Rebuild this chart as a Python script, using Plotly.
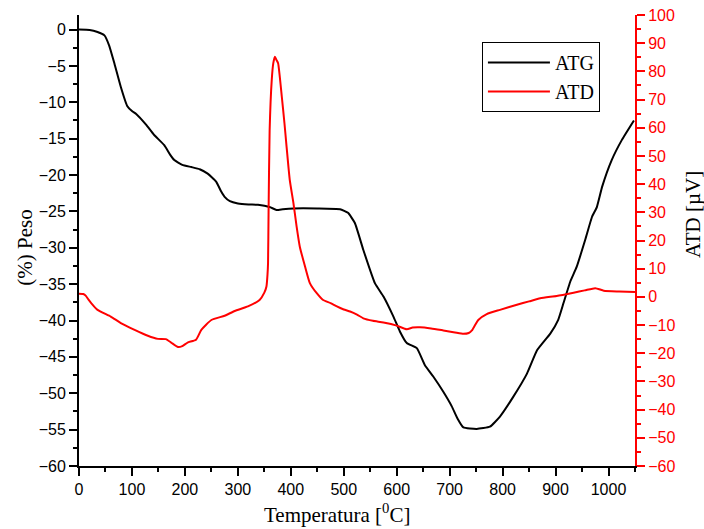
import plotly.graph_objects as go

# ATG (TGA) curve: temperature [°C] vs weight loss [%]
temp_atg = [0, 20, 35, 48, 57, 67, 79, 91, 100, 108, 127, 142, 161, 172, 180, 195, 212,
            228, 243, 259, 268, 275, 285, 300, 320, 338, 360, 373, 385, 405, 450, 493,
            508, 521, 537, 559, 575, 594, 606, 619, 638, 653, 669, 688, 704, 715, 726,
            751, 776, 795, 820, 846, 865, 890, 905, 915, 928, 940, 956, 969, 978, 988,
            1006, 1025, 1048]
peso_atg = [0, -0.05, -0.33, -0.8, -2.2, -4.7, -7.9, -10.5, -11.2, -11.6, -13.1, -14.5,
            -15.9, -17.2, -17.95, -18.6, -18.9, -19.2, -19.8, -20.9, -22.2, -23.0, -23.6,
            -23.9, -24.05, -24.1, -24.4, -24.8, -24.7, -24.6, -24.6, -24.7, -25.2, -26.6,
            -30.3, -34.9, -36.7, -39.5, -41.5, -43.1, -43.8, -46.1, -47.7, -49.8, -51.8,
            -53.5, -54.7, -54.9, -54.6, -53.2, -50.5, -47.3, -44.1, -41.8, -39.9, -37.6,
            -34.6, -32.6, -28.9, -25.7, -24.4, -21.6, -17.95, -15.2, -12.5]

# ATD (DTA) curve: temperature [°C] vs signal [µV]
temp_atd = [0, 8, 13, 18, 23, 35, 60, 79, 105, 130, 149, 164, 174, 187, 195, 205, 221,
            231, 250, 275, 294, 319, 341, 350, 354, 356, 357, 358, 360, 364, 367, 370,
            373, 376, 383, 388, 392, 398, 405, 411, 417, 427, 436, 449, 461, 475, 487,
            500, 512, 525, 537, 555, 575, 600, 619, 630, 644, 665, 688, 710, 726, 736,
            742, 748, 754, 770, 795, 827, 850, 871, 902, 934, 955, 975, 991, 1020, 1050]
uv_atd = [1.1, 1.0, 0.35, -1.0, -2.2, -4.6, -7.0, -9.3, -11.7, -13.8, -14.9, -15.0, -16.2,
          -17.8, -17.5, -16.2, -15.2, -11.7, -8.2, -6.7, -5.0, -3.4, -1.1, 1.5, 3.7, 8,
          12, 30, 59, 77, 83, 85.2, 84, 82.9, 71, 61.6, 53.3, 41.5, 33.2, 24.9, 17.8,
          10.7, 4.9, 1.3, -1.1, -2.2, -3.4, -4.5, -5.2, -6.3, -7.6, -8.5, -9.1, -10.2,
          -11.5, -10.9, -10.8, -11.2, -11.9, -12.6, -13.1, -12.8, -11.9, -10, -8.2,
          -6.1, -4.6, -2.8, -1.6, -0.5, 0.35, 1.5, 2.3, 3.1, 2.2, 1.9, 1.7]

x_range = [0, 1050]
y1_range = [-60, 2]
y2_range = [-60, 100]

tick_font = dict(family="Liberation Sans, Arial, sans-serif", size=16, color="black")
red_tick_font = dict(family="Liberation Sans, Arial, sans-serif", size=16, color="red")
serif = "Liberation Serif, Times New Roman, serif"

fig = go.Figure()
fig.add_trace(go.Scatter(x=temp_atg, y=peso_atg, name="ATG", mode="lines",
                         line=dict(color="black", width=2, shape="spline",
                                   smoothing=0.4)))
fig.add_trace(go.Scatter(x=temp_atd, y=uv_atd, name="ATD", mode="lines",
                         line=dict(color="red", width=2, shape="spline",
                                   smoothing=0.5), yaxis="y2"))

fig.update_layout(
    width=704, height=529,
    margin=dict(l=79, r=69, t=15, b=63, autoexpand=False),
    plot_bgcolor="white", paper_bgcolor="white",
    showlegend=True,
    xaxis=dict(range=x_range, tick0=0, dtick=100, ticks="outside", ticklen=8,
               tickwidth=1.5, tickcolor="black", showline=True, linecolor="black",
               linewidth=2, showgrid=False, zeroline=False, tickfont=tick_font,
               automargin=False,
               minor=dict(dtick=50, ticks="outside", ticklen=4, tickwidth=1.5,
                          tickcolor="black", showgrid=False)),
    xaxis2=dict(overlaying="x", side="top", range=x_range, tick0=0, dtick=100,
                ticks="inside", ticklen=8, tickwidth=1.5, tickcolor="red",
                showline=True, linecolor="red", linewidth=2, showgrid=False,
                zeroline=False, showticklabels=False, automargin=False,
                minor=dict(dtick=50, ticks="inside", ticklen=4, tickwidth=1.5,
                           tickcolor="red", showgrid=False)),
    yaxis=dict(range=y1_range, tick0=0, dtick=5, ticks="outside", ticklen=8,
               tickwidth=1.5, tickcolor="black", showline=True, linecolor="black",
               linewidth=2, showgrid=False, zeroline=False, tickfont=tick_font,
               automargin=False,
               minor=dict(dtick=2.5, ticks="outside", ticklen=4, tickwidth=1.5,
                          tickcolor="black", showgrid=False)),
    yaxis2=dict(overlaying="y", side="right", range=y2_range, tick0=0, dtick=10,
                ticks="outside", ticklen=8, tickwidth=1.5, tickcolor="red",
                showline=True, linecolor="red", linewidth=2, showgrid=False,
                zeroline=False, tickfont=red_tick_font, automargin=False,
                minor=dict(dtick=5, ticks="outside", ticklen=4, tickwidth=1.5,
                           tickcolor="red", showgrid=False)),
    legend=dict(x=0.7247, y=0.94, xanchor="left", yanchor="top",
                bgcolor="white", bordercolor="black", borderwidth=1,
                font=dict(family=serif, size=20, color="black"),
                itemwidth=62, tracegroupgap=0),
    annotations=[
        dict(text="Temperatura [<sup>0</sup>C]", xref="paper", yref="paper",
             x=0.4637, y=-0.1064, xanchor="center", yanchor="middle",
             showarrow=False, font=dict(family=serif, size=21, color="black")),
        dict(text="(%) Peso", xref="paper", yref="paper", x=-0.0977, y=0.4834,
             xanchor="center", yanchor="middle", textangle=-90, showarrow=False,
             font=dict(family=serif, size=21, color="black")),
        dict(text="ATD [µV]", xref="paper", yref="paper", x=1.1044, y=0.5565,
             xanchor="center", yanchor="middle", textangle=-90, showarrow=False,
             font=dict(family=serif, size=21, color="black")),
    ],
)

fig.write_html("out.html")
